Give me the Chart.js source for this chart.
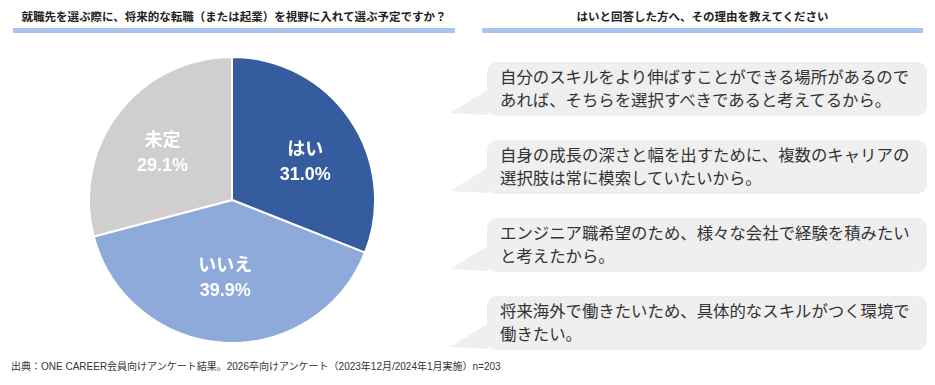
<!DOCTYPE html>
<html><head><meta charset="utf-8">
<script src="https://cdn.jsdelivr.net/npm/chart.js@4/dist/chart.umd.min.js"></script>
<style>
html,body{margin:0;padding:0;background:#fff;width:935px;height:385px;overflow:hidden;font-family:"Liberation Sans","Noto Sans CJK JP",sans-serif;}
.title{position:absolute;top:8px;font-size:11.5px;font-weight:bold;color:#222;text-align:center;white-space:nowrap;}
.bar{position:absolute;top:28px;height:5px;background:#a9c4ef;}
#cwrap{position:absolute;left:88px;top:56px;width:288px;height:280px;}
#c{width:288px;height:280px;display:block;}
.bubble{position:absolute;left:487px;width:440px;background:#efefef;border-radius:10px;color:#333;font-size:16.4px;line-height:23px;padding:4px 0 0 13px;box-sizing:border-box;white-space:nowrap;}
.tail{position:absolute;left:449px;width:40px;}
.foot{position:absolute;left:11px;top:358px;font-size:10px;color:#333;white-space:nowrap;}
</style></head><body>
<div class="title" style="left:13px;width:442px;">就職先を選ぶ際に、将来的な転職（または起業）を視野に入れて選ぶ予定ですか？</div>
<div class="bar" style="left:13px;width:442px;"></div>
<div class="title" style="left:482px;width:441px;">はいと回答した方へ、その理由を教えてください</div>
<div class="bar" style="left:482px;width:441px;"></div>
<div id="cwrap"><canvas id="c" width="288" height="288"></canvas></div>
<div id="bubbles"></div>
<div class="foot">出典：ONE CAREER会員向けアンケート結果。2026卒向けアンケート（2023年12月/2024年1月実施）n=203</div>
<script>
const categories = ["はい", "いいえ", "未定"];
const values = [31.0, 39.9, 29.1];
const colors = ["#345c9f", "#8eaadb", "#d0cece"];
const reasons = [
  ["自分のスキルをより伸ばすことができる場所があるので", "あれば、そちらを選択すべきであると考えてるから。"],
  ["自身の成長の深さと幅を出すために、複数のキャリアの", "選択肢は常に模索していたいから。"],
  ["エンジニア職希望のため、様々な会社で経験を積みたい", "と考えたから。"],
  ["将来海外で働きたいため、具体的なスキルがつく環境で", "働きたい。"]
];

const bubbleTops = [62, 140, 218, 296];
const labelShift = [[7, 7], [-2, -2], [-6, 2]];
const bw = document.getElementById('bubbles');
reasons.forEach((lines, i) => {
  const t = bubbleTops[i];
  const d = document.createElement('div');
  d.className = 'bubble';
  d.style.top = t + 'px';
  d.style.height = '54px';
  lines.forEach((l) => { const s = document.createElement('div'); s.textContent = l; d.appendChild(s); });
  const tail = document.createElementNS('http://www.w3.org/2000/svg', 'svg');
  tail.setAttribute('class', 'tail');
  tail.setAttribute('width', '40'); tail.setAttribute('height', '56');
  tail.style.top = t + 'px';
  const p = document.createElementNS('http://www.w3.org/2000/svg', 'polygon');
  p.setAttribute('points', '40,27 1,51 40,53');
  p.setAttribute('fill', '#efefef');
  tail.appendChild(p);
  bw.appendChild(tail);
  bw.appendChild(d);
});

const labelPlugin = {
  id: 'sliceLabels',
  afterDatasetsDraw(chart) {
    const ctx = chart.ctx;
    const meta = chart.getDatasetMeta(0);
    meta.data.forEach((arc, i) => {
      const p = arc.getProps(['x', 'y', 'startAngle', 'endAngle', 'outerRadius'], true);
      const mid = (p.startAngle + p.endAngle) / 2;
      const r = p.outerRadius * 0.56;
      const x = p.x + Math.cos(mid) * r + labelShift[i][0];
      const y = p.y + Math.sin(mid) * r + labelShift[i][1];
      ctx.save();
      ctx.fillStyle = '#ffffff';
      ctx.textAlign = 'center';
      ctx.textBaseline = 'middle';
      ctx.font = 'bold 18px "Liberation Sans","Noto Sans CJK JP",sans-serif';
      ctx.fillText(categories[i], x, y - 12);
      ctx.fillText(values[i].toFixed(1) + '%', x, y + 13);
      ctx.restore();
    });
  }
};

new Chart(document.getElementById('c'), {
  type: 'pie',
  data: {
    labels: categories,
    datasets: [{ data: values, backgroundColor: colors, borderColor: '#ffffff', borderWidth: 2 }]
  },
  options: {
    responsive: false,
    animation: false,
    devicePixelRatio: 1,
    layout: { padding: 0 },
    plugins: { legend: { display: false }, tooltip: { enabled: false } }
  },
  plugins: [labelPlugin]
});
</script>
</body></html>
